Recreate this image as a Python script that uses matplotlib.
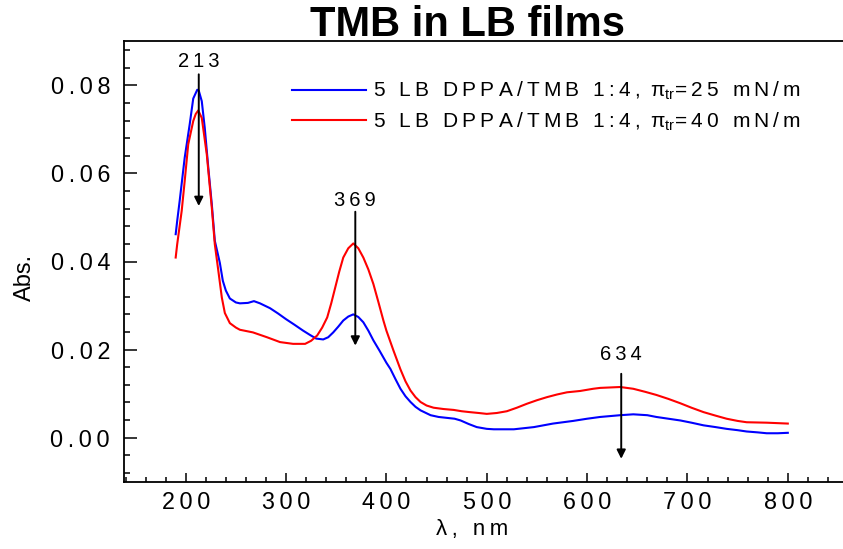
import numpy as np
import matplotlib
matplotlib.use('Agg')
import matplotlib.pyplot as plt
from matplotlib.ticker import MultipleLocator, FuncFormatter

plt.rcParams['font.family'] = ['Liberation Sans', 'DejaVu Sans']

# blue: 5 LB DPPA/TMB 1:4, pi_tr = 25 mN/m
wl_25 = [190, 191.5, 194, 199, 204, 207.5, 211.5, 213, 216, 219, 222.5, 226, 229, 234, 237,
         240, 244, 250, 254, 262, 268, 274, 284, 292, 300, 308, 317, 324, 330, 337, 342,
         347, 352, 357, 362, 367, 372, 377, 382, 387, 393, 400, 404, 409, 414, 419, 424,
         429, 434, 444, 452, 460, 468, 474, 482, 490, 500, 507, 527, 547, 566, 586, 600,
         613, 633, 646, 660, 669, 681, 693, 704, 716, 728, 739, 750, 759, 770, 779, 790, 800]
abs_25 = [0.0462, 0.0492, 0.0538, 0.0636, 0.0712, 0.0770, 0.0790, 0.0788, 0.0764, 0.0703,
          0.0613, 0.0530, 0.0447, 0.0397, 0.0356, 0.0334, 0.0316, 0.0307, 0.0305, 0.0306,
          0.0310, 0.0305, 0.0294, 0.0282, 0.0269, 0.0257, 0.0243, 0.0233, 0.0225, 0.0223,
          0.0228, 0.0239, 0.0252, 0.0266, 0.0275, 0.0280, 0.0274, 0.0262, 0.0243, 0.0221,
          0.0198, 0.0170, 0.0156, 0.0133, 0.0111, 0.0094, 0.0081, 0.0070, 0.0062, 0.0051,
          0.0047, 0.0045, 0.0043, 0.0039, 0.0031, 0.0024, 0.0020, 0.0019, 0.0019, 0.0024,
          0.0032, 0.0038, 0.0043, 0.0047, 0.0051, 0.0053, 0.0051, 0.0047, 0.0043, 0.0039,
          0.0034, 0.0028, 0.0024, 0.0020, 0.0017, 0.0014, 0.0012, 0.0010, 0.0010, 0.0011]

# red: 5 LB DPPA/TMB 1:4, pi_tr = 40 mN/m
wl_40 = [190, 191.5, 196, 199, 202.5, 207.5, 210, 212.5, 216, 221, 226, 229, 232.5, 236, 239,
         244, 250, 254, 267, 281, 294, 307, 319, 325, 331, 336, 341, 345, 349, 353, 357,
         362, 367, 372, 377, 382, 387, 392, 397, 400, 407, 414, 419, 424, 429, 434, 440,
         447, 457, 467, 475, 483, 492, 500, 510, 520, 530, 540, 550, 560, 570, 580, 593,
         606, 613, 633, 646, 658, 669, 681, 693, 704, 716, 728, 739, 750, 759, 779, 800]
abs_40 = [0.0409, 0.0439, 0.0515, 0.0583, 0.0666, 0.0719, 0.0735, 0.0743, 0.0726, 0.0643,
          0.0522, 0.0439, 0.0379, 0.0318, 0.0283, 0.0260, 0.0250, 0.0245, 0.0239, 0.0228,
          0.0217, 0.0213, 0.0213, 0.0220, 0.0232, 0.0250, 0.0273, 0.0305, 0.0341, 0.0377,
          0.0409, 0.0430, 0.0441, 0.0430, 0.0409, 0.0382, 0.0349, 0.0308, 0.0266, 0.0243,
          0.0198, 0.0155, 0.0128, 0.0107, 0.0092, 0.0081, 0.0073, 0.0068, 0.0065, 0.0063,
          0.0060, 0.0058, 0.0056, 0.0054, 0.0056, 0.0060, 0.0068, 0.0077, 0.0085, 0.0092,
          0.0098, 0.0103, 0.0106, 0.0111, 0.0113, 0.0115, 0.0111, 0.0104, 0.0097, 0.0088,
          0.0078, 0.0068, 0.0058, 0.0050, 0.0043, 0.0038, 0.0035, 0.0034, 0.0032]

# peak markers
peaks = [213, 369, 634]
arrow_top = [0.0825, 0.0513, 0.0145]
arrow_bot = [0.0526, 0.0209, -0.0048]
peak_text_y = [0.0853, 0.0538, 0.0188]


def spaced(s):
    # Origin-style letter spacing
    return '\u2009'.join(s)


fig = plt.figure(figsize=(8.43, 5.49), dpi=100)
W, H = 843, 549
x0, y0, y1 = 124, 481.7, 41.3
ax = fig.add_axes([x0 / W, 1 - y0 / H, (W - x0) / W, (y0 - y1) / H])

pi_tr = r'$\mathregular{\pi_{tr}}$'
ax.plot(wl_25, abs_25, color='#0000ff', lw=1.5,
        label=spaced('5 LB DPPA/TMB 1:4, ') + pi_tr + spaced('=25 mN/m'))
ax.plot(wl_40, abs_40, color='#ff0000', lw=1.5,
        label=spaced('5 LB DPPA/TMB 1:4, ') + pi_tr + spaced('=40 mN/m'))

for p, t, b, ty in zip(peaks, arrow_top, arrow_bot, peak_text_y):
    ax.annotate('', xy=(p, b), xytext=(p, t),
                arrowprops=dict(arrowstyle='-|>', color='k', lw=1.4,
                                mutation_scale=13, shrinkA=0, shrinkB=0))
    ax.text(p, ty, spaced(str(p)), ha='center', va='center', fontsize=14.5)

ax.set_xlim(138.5, 855)
ax.set_ylim(-0.01, 0.09)
ax.spines['right'].set_visible(False)
for s in ['left', 'bottom', 'top']:
    ax.spines[s].set_linewidth(1.3)

ax.xaxis.set_major_locator(MultipleLocator(100))
ax.xaxis.set_minor_locator(MultipleLocator(20))
ax.yaxis.set_major_locator(MultipleLocator(0.02))
ax.yaxis.set_minor_locator(MultipleLocator(0.004))
ax.xaxis.set_major_formatter(FuncFormatter(lambda v, p: spaced('%d' % v) if 150 < v < 850 else ''))
ax.yaxis.set_major_formatter(FuncFormatter(lambda v, p: spaced('%.2f' % (0.0 if abs(v) < 1e-9 else v))))

ax.tick_params(axis='y', which='major', direction='in', length=9.2, width=1.1, labelsize=16.8, pad=10)
ax.tick_params(axis='y', which='minor', direction='in', length=4.5, width=1.1)
ax.tick_params(axis='x', which='major', direction='in', length=6.5, width=1.1, labelsize=16.8, pad=6.5)
ax.tick_params(axis='x', which='minor', direction='in', length=3.6, width=1.1)
ax.tick_params(top=False, right=False, which='both')

ax.set_xlabel(spaced('λ, nm'), fontsize=16)
ax.xaxis.set_label_coords((472.5 - x0) / (W - x0), -(519 - y0) / (y0 - y1))
ax.set_ylabel('Abs.', fontsize=17)
ax.yaxis.set_label_coords((36 - x0) / (W - x0), (y0 - 277.5) / (y0 - y1))

ax.legend(loc='upper left', bbox_to_anchor=(292 / W, 1 - 80 / H), bbox_transform=fig.transFigure,
          frameon=False, fontsize=15, handlelength=3.55, handletextpad=0.33,
          borderpad=0, borderaxespad=0, labelspacing=0.4)

fig.text(468 / W, 1 - 36.5 / H, 'TMB in LB films', ha='center', va='baseline',
         fontsize=30, fontweight='bold')

fig.savefig('out.png', dpi=100)
